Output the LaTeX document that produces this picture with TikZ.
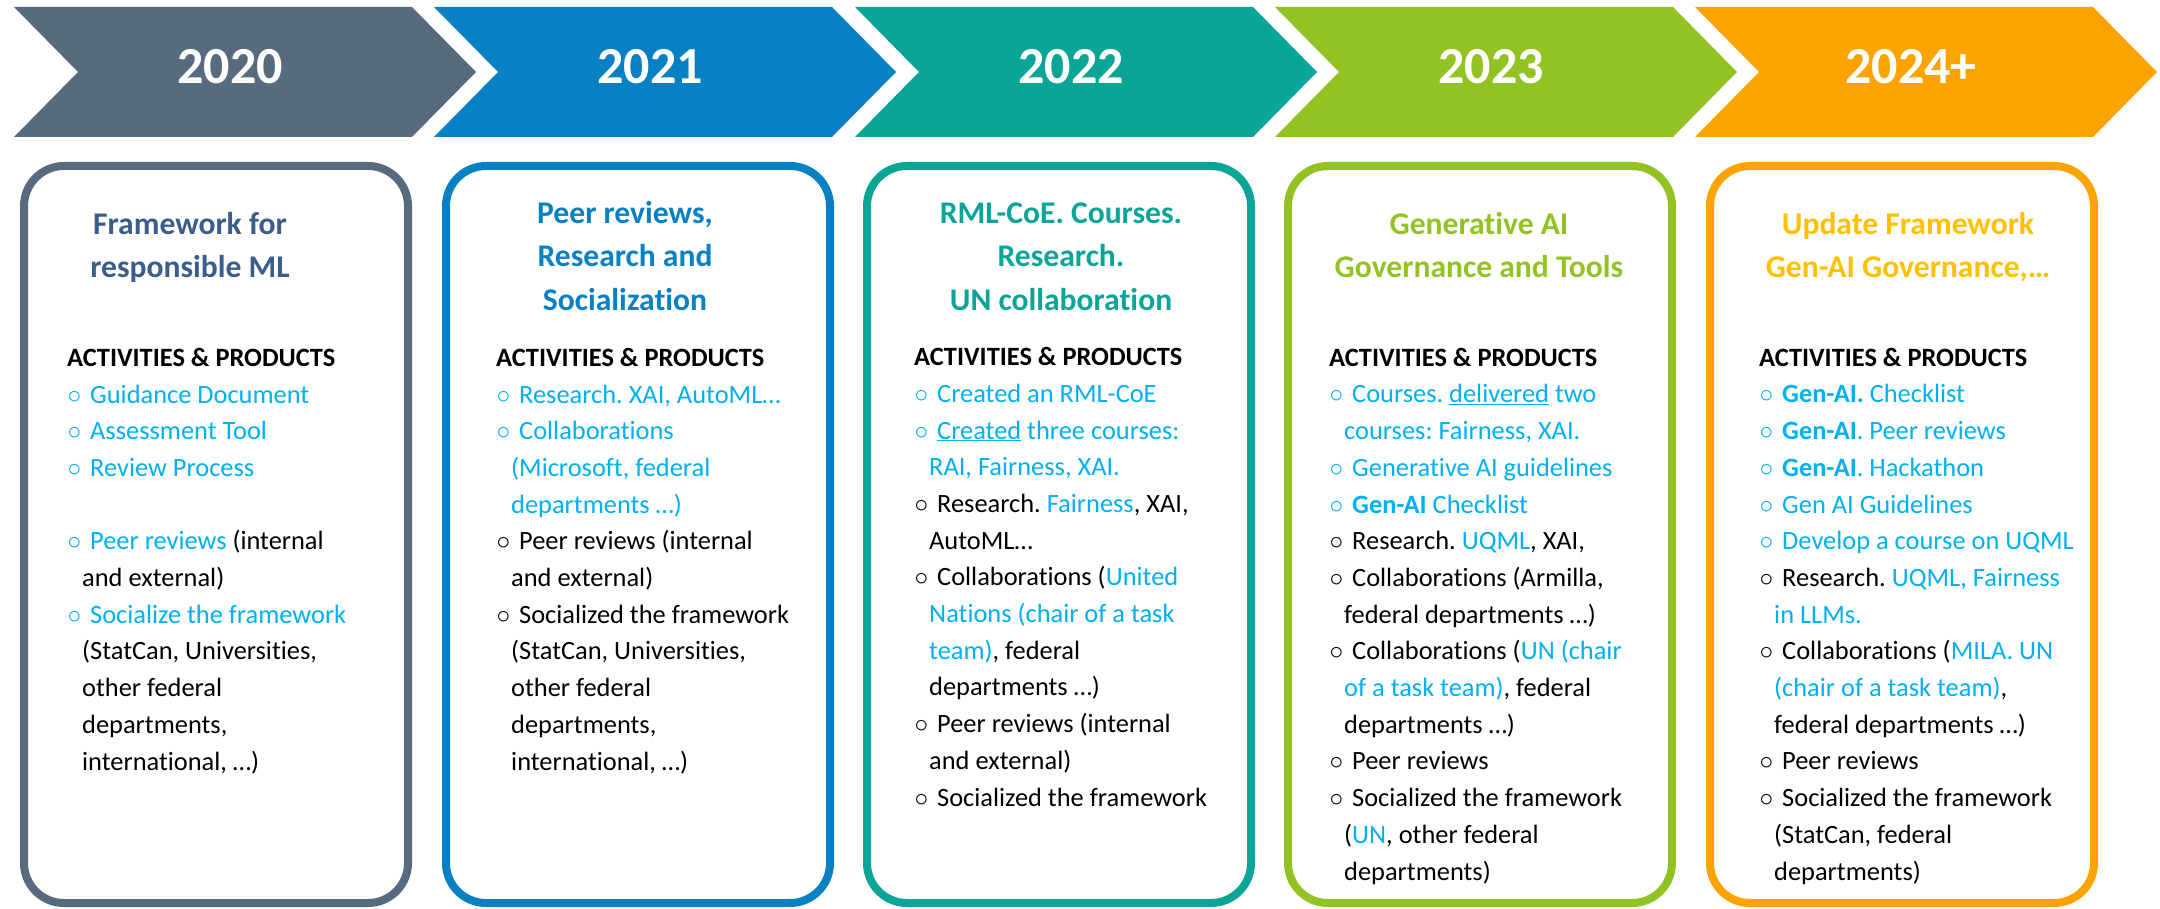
\documentclass[tikz,border=0pt]{standalone}
\usepackage{fontspec}
\setmainfont{Carlito}[Ligatures=NoCommon]
\frenchspacing

\definecolor{yr20}{HTML}{586A7E}
\definecolor{yr21}{HTML}{0880C4}
\definecolor{yr22}{HTML}{0AA597}
\definecolor{yr23}{HTML}{93C323}
\definecolor{yr24}{HTML}{FCA300}
\definecolor{ttl20}{HTML}{3B5D8C}
\definecolor{ttl24}{HTML}{FFC000}
\definecolor{hilite}{HTML}{00B0F0}

\newcommand{\bl}{\makebox[23pt][l]{\hspace{0.5pt}\scalebox{1.1}{$\circ$}}}
\newcommand{\ct}{\hspace*{15pt}}
\newcommand{\hl}[1]{\textcolor{hilite}{#1}}

\begin{document}
\begin{tikzpicture}[x=1pt,y=-1pt]
        \tikzstyle{year}=[text=white,font=\bfseries\fontsize{52}{60}\selectfont,anchor=base,inner sep=0pt]
        \tikzstyle{card}=[draw,line width=8pt,rounded corners=40pt,minimum width=384pt,minimum height=737pt,anchor=north west,outer sep=0pt,inner sep=0pt]
        \tikzstyle{ttl}=[font=\bfseries\fontsize{31.6}{43.5}\selectfont,align=center,anchor=base,inner sep=0pt]
        \tikzstyle{body}=[font=\fontsize{26.4}{36.7}\selectfont,align=left,anchor=base west,inner sep=0pt]

        \useasboundingbox (0,0) rectangle (2160,909);

        % arrows along the top
        \fill[yr20] (14,7) -- ++(398,0) -- ++(64,65) -- ++(-64,65) -- ++(-398,0) -- ++(64,-65) -- cycle;
        \fill[yr21] (434,7) -- ++(398,0) -- ++(64,65) -- ++(-64,65) -- ++(-398,0) -- ++(64,-65) -- cycle;
        \fill[yr22] (855,7) -- ++(398,0) -- ++(64,65) -- ++(-64,65) -- ++(-398,0) -- ++(64,-65) -- cycle;
        \fill[yr23] (1275,7) -- ++(398,0) -- ++(64,65) -- ++(-64,65) -- ++(-398,0) -- ++(64,-65) -- cycle;
        \fill[yr24] (1695,7) -- ++(398,0) -- ++(64,65) -- ++(-64,65) -- ++(-398,0) -- ++(64,-65) -- cycle;

        \node [year] (y20) at (230,84) {2020};
        \node [year] (y21) at (650,84) {2021};
        \node [year] (y22) at (1071,84) {2022};
        \node [year] (y23) at (1491,84) {2023};
        \node [year] (y24) at (1911,84) {2024+};

        % cards (text nodes sit on the baseline of their last line)
        \node [card,draw=yr20] (box20) at (24,166) {};
        \node [card,draw=yr21] (box21) at (446,166) {};
        \node [card,draw=yr22] (box22) at (867,166) {};
        \node [card,draw=yr23] (box23) at (1288,166) {};
        \node [card,draw=yr24] (box24) at (1710,166) {};

        \node [ttl,text=ttl20] (title20) at (190,278) {Framework for\\responsible ML};
        \node [ttl,text=yr21] (title21) at (625,310) {Peer reviews,\\Research and\\Socialization};
        \node [ttl,text=yr22] (title22) at (1061,310) {RML-CoE. Courses.\\Research.\\UN collaboration};
        \node [ttl,text=yr23] (title23) at (1479,278) {Generative AI\\Governance and Tools};
        \node [ttl,text=ttl24] (title24) at (1908,278) {Update Framework\\Gen-AI Governance,…};

        \node [body] (body20) at (67,770) {\textbf{ACTIVITIES \& PRODUCTS}\\
          \hl{\bl Guidance Document}\\
          \hl{\bl Assessment Tool}\\
          \hl{\bl Review Process}\\[36.7pt]
          \hl{\bl Peer reviews} (internal\\
          \ct and external)\\
          \hl{\bl Socialize the framework}\\
          \ct (StatCan, Universities,\\
          \ct other federal\\
          \ct departments,\\
          \ct international, …)};

        \node [body] (body21) at (496,770) {\textbf{ACTIVITIES \& PRODUCTS}\\
          \hl{\bl Research. XAI, AutoML…}\\
          \hl{\bl Collaborations}\\
          \hl{\ct (Microsoft, federal}\\
          \hl{\ct departments …)}\\
          \bl Peer reviews (internal\\
          \ct and external)\\
          \bl Socialized the framework\\
          \ct (StatCan, Universities,\\
          \ct other federal\\
          \ct departments,\\
          \ct international, …)};

        \node [body] (body22) at (914,806) {\textbf{ACTIVITIES \& PRODUCTS}\\
          \hl{\bl Created an RML-CoE}\\
          \hl{\bl \underline{Created} three courses:}\\
          \hl{\ct RAI, Fairness, XAI.}\\
          \bl Research. \hl{Fairness}, XAI,\\
          \ct AutoML…\\
          \bl Collaborations (\hl{United}\\
          \hl{\ct Nations (chair of a task}\\
          \hl{\ct team)}, federal\\
          \ct departments …)\\
          \bl Peer reviews (internal\\
          \ct and external)\\
          \bl Socialized the framework};

        \node [body] (body23) at (1329,880) {\textbf{ACTIVITIES \& PRODUCTS}\\
          \hl{\bl Courses. \underline{delivered} two}\\
          \hl{\ct courses: Fairness, XAI.}\\
          \hl{\bl Generative AI guidelines}\\
          \hl{\bl \textbf{Gen-AI} Checklist}\\
          \bl Research. \hl{UQML}, XAI,\\
          \bl Collaborations (Armilla,\\
          \ct federal departments …)\\
          \bl Collaborations (\hl{UN (chair}\\
          \hl{\ct of a task team)}, federal\\
          \ct departments …)\\
          \bl Peer reviews\\
          \bl Socialized the framework\\
          \ct (\hl{UN}, other federal\\
          \ct departments)};

        \node [body] (body24) at (1759,880) {\textbf{ACTIVITIES \& PRODUCTS}\\
          \hl{\bl \textbf{Gen-AI.} Checklist}\\
          \hl{\bl \textbf{Gen-AI}. Peer reviews}\\
          \hl{\bl \textbf{Gen-AI}. Hackathon}\\
          \hl{\bl Gen AI Guidelines}\\
          \hl{\bl Develop a course on UQML}\\
          \bl Research. \hl{UQML, Fairness}\\
          \hl{\ct in LLMs.}\\
          \bl Collaborations (\hl{MILA. UN}\\
          \hl{\ct (chair of a task team)},\\
          \ct federal departments …)\\
          \bl Peer reviews\\
          \bl Socialized the framework\\
          \ct (StatCan, federal\\
          \ct departments)};
\end{tikzpicture}
\end{document}
